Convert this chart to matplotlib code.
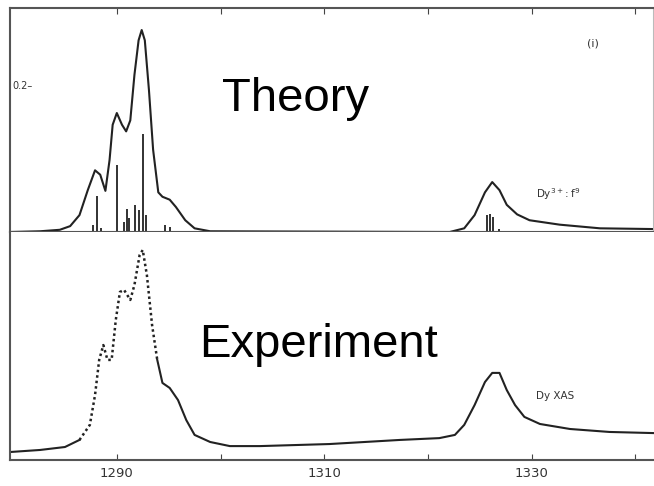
import matplotlib
matplotlib.use("Agg")
import matplotlib.pyplot as plt

# Theory spectrum (energy eV, intensity)
theory_E = [1279.7, 1282.6, 1284.5, 1285.5, 1286.4, 1287.2, 1287.9, 1288.4, 1288.9, 1289.3,
            1289.6, 1290.0, 1290.5, 1290.9, 1291.3, 1291.7, 1292.1, 1292.4, 1292.7, 1293.1,
            1293.5, 1294.0, 1294.4, 1295.1, 1295.7, 1296.6, 1297.5, 1299.0, 1322.1, 1323.5,
            1324.5, 1325.5, 1326.2, 1326.9, 1327.6, 1328.6, 1329.8, 1332.7, 1336.6, 1341.8]
theory_I = [0.0, 0.001, 0.003, 0.008, 0.023, 0.057, 0.084, 0.078, 0.056, 0.098,
            0.146, 0.162, 0.146, 0.137, 0.152, 0.214, 0.261, 0.275, 0.261, 0.193,
            0.112, 0.054, 0.048, 0.044, 0.034, 0.016, 0.005, 0.001, 0.0, 0.005,
            0.023, 0.054, 0.068, 0.057, 0.037, 0.024, 0.016, 0.010, 0.005, 0.004]

# Multiplet sticks
stick_E = [1287.7, 1288.1, 1288.5, 1290.0, 1290.7, 1291.0, 1291.2, 1291.8, 1292.1, 1292.5,
           1292.8, 1294.6, 1295.1, 1325.7, 1326.0, 1326.3, 1326.9]
stick_I = [0.010, 0.049, 0.005, 0.091, 0.014, 0.031, 0.019, 0.037, 0.030, 0.133,
           0.023, 0.010, 0.007, 0.023, 0.024, 0.020, 0.004]

# Experimental XAS (energy eV, intensity arb.)
exp_E = [1279.7, 1282.6, 1285.0, 1286.4, 1287.4, 1287.9, 1288.3, 1288.7, 1289.1, 1289.5,
         1289.9, 1290.3, 1290.7, 1291.3, 1291.7, 1292.2, 1292.5, 1292.9, 1293.4, 1293.9,
         1294.4, 1295.1, 1295.9, 1296.7, 1297.5, 1299.0, 1300.9, 1303.8, 1310.5, 1317.3,
         1321.1, 1322.6, 1323.5, 1324.5, 1325.5, 1326.2, 1326.9, 1327.6, 1328.4, 1329.3,
         1330.8, 1333.7, 1337.5, 1341.8]
exp_I = [0.035, 0.044, 0.057, 0.088, 0.154, 0.285, 0.439, 0.504, 0.439, 0.439,
         0.614, 0.737, 0.746, 0.702, 0.768, 0.899, 0.921, 0.811, 0.592, 0.439,
         0.338, 0.316, 0.263, 0.175, 0.110, 0.079, 0.061, 0.061, 0.070, 0.088,
         0.096, 0.110, 0.154, 0.241, 0.342, 0.382, 0.382, 0.307, 0.241, 0.189,
         0.158, 0.136, 0.123, 0.118]

xticks = [1290, 1300, 1310, 1320, 1330, 1340]
xticklabels = ["1290", "", "1310", "", "1330", ""]
xlim = (1279.7, 1341.8)

fig = plt.figure(figsize=(6.54, 4.86), dpi=100)
L, R = 10 / 654, 1.0
y_top, y_mid, y_bot = 1 - 8 / 486, 1 - 232 / 486, 1 - 460 / 486
ax1 = fig.add_axes([L, y_mid, R - L, y_top - y_mid])
ax2 = fig.add_axes([L, y_bot, R - L, y_mid - y_bot])

line_c = "#222222"
for ax in (ax1, ax2):
    ax.set_xlim(*xlim)
    for s in ax.spines.values():
        s.set_color("#555555")
        s.set_linewidth(1.5)

# Theory panel
ax1.plot(theory_E, theory_I, color=line_c, lw=1.5)
ax1.vlines(stick_E, 0, stick_I, color=line_c, lw=1.3)
ax1.set_ylim(0, 0.305)
ax1.xaxis.tick_top()
ax1.set_xticks(xticks)
ax1.tick_params(axis="x", direction="in", length=4, labeltop=False, color="#444444")
ax1.set_yticks([0.2])
ax1.set_yticklabels(["0.2\u2013"])
ax1.tick_params(axis="y", direction="in", length=0, pad=-2, labelsize=7, labelcolor="#333333")
for lab in ax1.get_yticklabels():
    lab.set_horizontalalignment("left")
ax1.spines["right"].set_color("#bbbbbb")
ax1.text(1300.1, 0.181, "Theory", fontsize=34, family="Liberation Sans", ha="left", va="center")
ax1.text(1330.4, 0.052, "Dy$^{3+}$: f$^9$", fontsize=7.5, color="#333333", ha="left", va="center")
ax1.text(1335.3, 0.257, "(i)", fontsize=8, color="#333333", ha="left", va="center")

# Experiment panel
ax2.plot(exp_E[:4], exp_I[:4], color=line_c, lw=1.5)
ax2.plot(exp_E[3:20], exp_I[3:20], color=line_c, lw=1.8, linestyle=(0, (1, 1.2)))
ax2.plot(exp_E[19:], exp_I[19:], color=line_c, lw=1.5)
ax2.set_ylim(0, 1.0)
ax2.spines["top"].set_visible(False)
ax2.spines["right"].set_visible(False)
ax2.set_xticks(xticks)
ax2.set_xticklabels(xticklabels)
ax2.tick_params(axis="x", direction="in", length=4, labelsize=9.5, pad=5, color="#444444",
                labelcolor="#333333")
ax2.set_yticks([])
ax2.text(1297.9, 0.505, "Experiment", fontsize=34, family="Liberation Sans", ha="left", va="center")
ax2.text(1330.4, 0.28, "Dy XAS", fontsize=7.5, color="#333333", ha="left", va="center")

fig.savefig("out.png", dpi=100)
